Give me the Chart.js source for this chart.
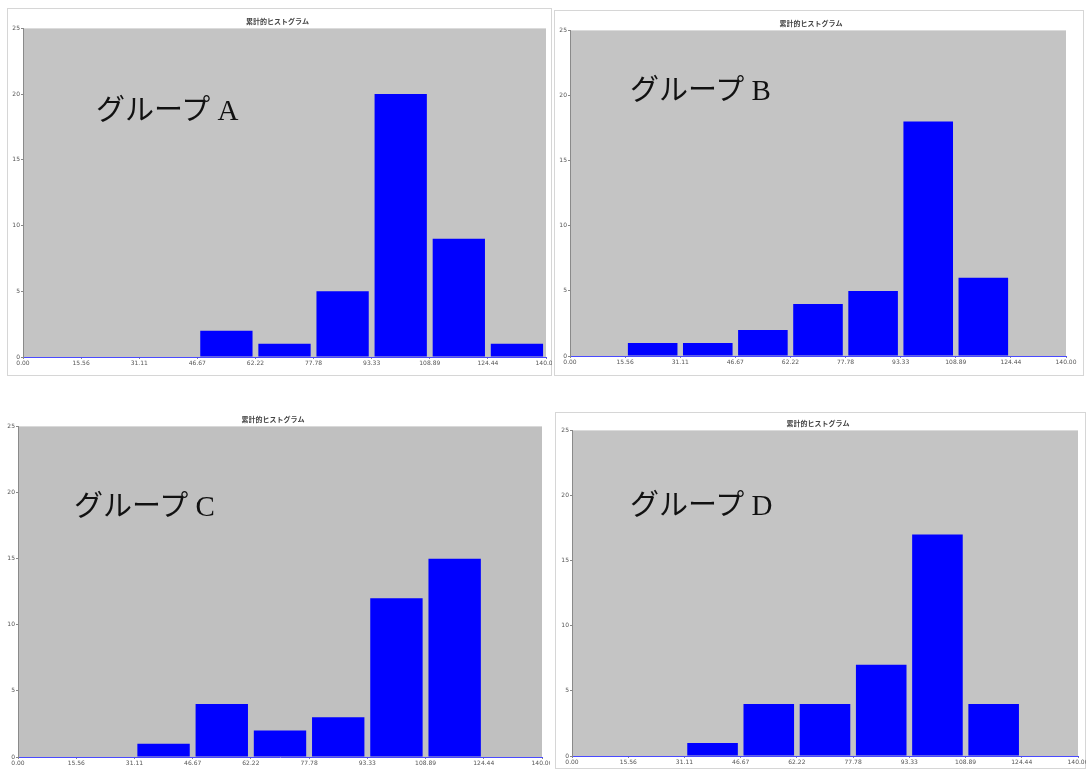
<!DOCTYPE html>
<html>
<head>
<meta charset="utf-8">
<script src="https://cdn.jsdelivr.net/npm/chart.js@4.4.1/dist/chart.umd.min.js"></script>
<style>
  body { margin:0; background:#fff; width:1086px; height:769px; position:relative; overflow:hidden; }
  .wrap { position:absolute; overflow:hidden; }
  .frame { outline:1px solid #d6d6d6; outline-offset:-1px; }
  .box { position:absolute; }
  .box canvas { display:block; }
  .label { position:absolute; font-size:29px; line-height:1; color:#111; white-space:nowrap;
           font-family:"Liberation Serif","Noto Sans CJK JP",serif; }
</style>
</head>
<body>
<div class="wrap frame" style="left:7px;top:8px;width:545px;height:368px">
  <div class="box" style="left:0;top:0;width:551px;height:368px"><canvas id="cA"></canvas></div>
</div>
<div class="wrap frame" style="left:554px;top:10px;width:530px;height:366px">
  <div class="box" style="left:0;top:0;width:524px;height:366px"><canvas id="cB"></canvas></div>
</div>
<div class="wrap" style="left:0;top:410px;width:550px;height:359px">
  <div class="box" style="left:0;top:0;width:554px;height:359px"><canvas id="cC"></canvas></div>
</div>
<div class="wrap frame" style="left:555px;top:412px;width:531px;height:357px">
  <div class="box" style="left:1px;top:0;width:534px;height:357px"><canvas id="cD"></canvas></div>
</div>

<div class="label" id="lA" style="left:96px;top:96px"></div>
<div class="label" id="lB" style="left:630px;top:76px"></div>
<div class="label" id="lC" style="left:74px;top:492px"></div>
<div class="label" id="lD" style="left:630px;top:491px"></div>

<script>
// bin edges (x tick labels) and y ticks
const binEdges = [0, 15.56, 31.11, 46.67, 62.22, 77.78, 93.33, 108.89, 124.44, 140];
const yTicks = [0, 5, 10, 15, 20, 25];

// counts per bin
const groupA = [0, 0, 0, 2, 1, 5, 20, 9, 1];
const groupB = [0, 1, 1, 2, 4, 5, 18, 6, 0];
const groupC = [0, 0, 1, 4, 2, 3, 12, 15, 0];
const groupD = [0, 0, 1, 4, 4, 7, 17, 4, 0];

const groupNames = ['グループ A', 'グループ B', 'グループ C', 'グループ D'];
const chartTitle = '累計的ヒストグラム';

const plotBg = {
  id: 'plotBg',
  beforeDraw(chart, args, opts) {
    const a = chart.chartArea, ctx = chart.ctx;
    ctx.save();
    ctx.fillStyle = opts.color;
    ctx.fillRect(a.left, a.top, a.right - a.left, a.bottom - a.top);
    ctx.restore();
  }
};

function makeChart(id, counts, bg, pad) {
  const pts = counts.map((v, i) => ({ x: (binEdges[i] + binEdges[i + 1]) / 2, y: v }));
  return new Chart(document.getElementById(id), {
    type: 'bar',
    data: { datasets: [{ data: pts, backgroundColor: '#0000ff', borderWidth: 0,
                         barPercentage: 0.9, categoryPercentage: 1 }] },
    options: {
      responsive: true,
      maintainAspectRatio: false,
      animation: false,
      layout: { padding: pad },
      plugins: {
        legend: { display: false },
        tooltip: { enabled: false },
        title: { display: true, text: chartTitle, color: '#444',
                 font: { size: 7, family: '"Noto Sans CJK JP", sans-serif' },
                 padding: { top: 2, bottom: 3 } },
        plotBg: { color: bg }
      },
      scales: {
        x: {
          type: 'linear', min: 0, max: 140, offset: false,
          afterBuildTicks: s => { s.ticks = binEdges.map(v => ({ value: v })); },
          afterFit: s => { s.height = 12; },
          ticks: { autoSkip: false, maxRotation: 0, color: '#555', padding: 1,
                   font: { size: 6, family: 'DejaVu Sans' },
                   callback: v => v.toFixed(2) },
          grid: { display: true, drawOnChartArea: false, offset: false, tickLength: 2, color: '#888' },
          border: { color: '#4a4aff', width: 1 }
        },
        y: {
          min: 0, max: 25,
          afterBuildTicks: s => { s.ticks = yTicks.map(v => ({ value: v })); },
          afterFit: s => { s.width = 14; },
          ticks: { color: '#555', padding: 1, font: { size: 6, family: 'DejaVu Sans' } },
          grid: { display: true, drawOnChartArea: false, tickLength: 2, color: '#888' },
          border: { color: '#8a8a8a', width: 1 }
        }
      }
    },
    plugins: [plotBg]
  });
}

makeChart('cA', groupA, '#c4c4c4', { left: 2, top: 7, right: 12, bottom: 7 });
makeChart('cB', groupB, '#c4c4c4', { left: 2, top: 7, right: 12, bottom: 8 });
makeChart('cC', groupC, '#c0c0c0', { left: 4, top: 3, right: 12, bottom: 0 });
makeChart('cD', groupD, '#c4c4c4', { left: 2, top: 5, right: 12, bottom: 1 });

['lA', 'lB', 'lC', 'lD'].forEach((id, i) => { document.getElementById(id).textContent = groupNames[i]; });
</script>
</body>
</html>
